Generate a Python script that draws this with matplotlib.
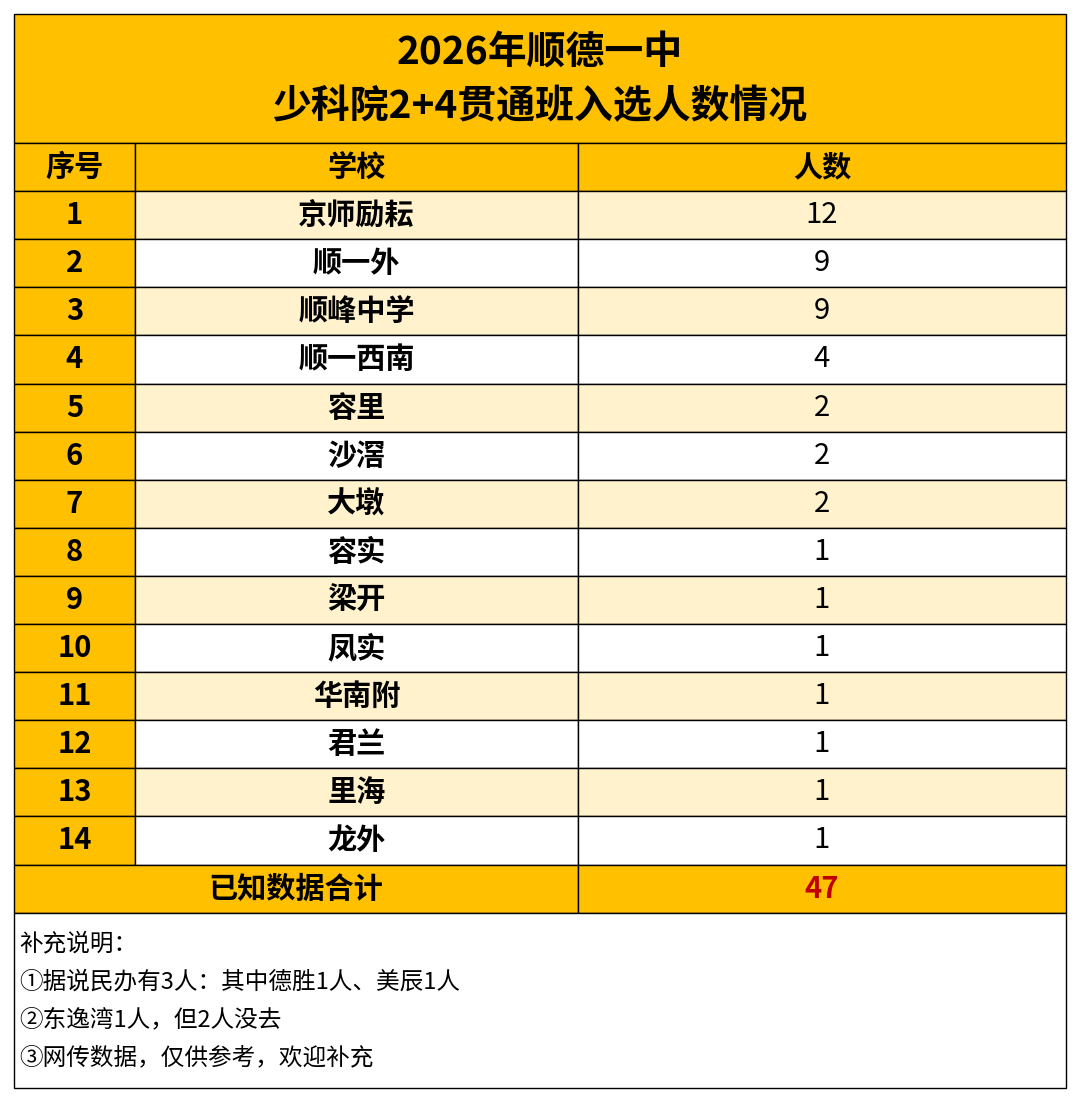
import matplotlib.pyplot as plt
from matplotlib.patches import Rectangle

plt.rcParams['font.family'] = ['Noto Sans CJK SC', 'DejaVu Sans']

title_lines = ['2026年顺德一中', '少科院2+4贯通班入选人数情况']
headers = ['序号', '学校', '人数']
schools = ['京师励耘', '顺一外', '顺峰中学', '顺一西南', '容里', '沙滘', '大墩',
           '容实', '梁开', '凤实', '华南附', '君兰', '里海', '龙外']
counts = [12, 9, 9, 4, 2, 2, 2, 1, 1, 1, 1, 1, 1, 1]
total_label = '已知数据合计'
notes = ['补充说明：', '①据说民办有3人：其中德胜1人、美辰1人',
         '②东逸湾1人，但2人没去', '③网传数据，仅供参考，欢迎补充']

orange = '#FFC000'
cream = '#FFF2CC'

fig = plt.figure(figsize=(10.8, 11.02), dpi=100)
ax = fig.add_axes([0, 0, 1, 1])
ax.set_xlim(0, 1080)
ax.set_ylim(1102, 0)
ax.axis('off')

x0, x1, x2, x3 = 14, 135, 578, 1066
top, title_h, row_h = 14, 129, 48.1

def cell(x, y, w, h, color):
    ax.add_patch(Rectangle((x, y), w, h, facecolor=color, edgecolor='black', linewidth=1))

# title
cell(x0, top, x3 - x0, title_h, orange)
for i, t in enumerate(title_lines):
    ax.text((x0 + x3) / 2, top + 38 + i * 55, t, ha='center', va='center',
            fontsize=28, fontweight='bold')

# header
y = top + title_h
cols = [(x0, x1), (x1, x2), (x2, x3)]
for (a, b), h in zip(cols, headers):
    cell(a, y, b - a, row_h, orange)
    ax.text((a + b) / 2, y + row_h / 2, h, ha='center', va='center', fontsize=21, fontweight='bold')

# rows
for i, (s, c) in enumerate(zip(schools, counts)):
    y = top + title_h + row_h * (i + 1)
    bg = cream if i % 2 == 0 else 'white'
    cell(x0, y, x1 - x0, row_h, orange)
    cell(x1, y, x2 - x1, row_h, bg)
    cell(x2, y, x3 - x2, row_h, bg)
    ax.text((x0 + x1) / 2, y + row_h / 2, str(i + 1), ha='center', va='center',
            fontsize=21, fontweight='bold')
    ax.text((x1 + x2) / 2, y + row_h / 2, s, ha='center', va='center',
            fontsize=21, fontweight='bold')
    ax.text((x2 + x3) / 2, y + row_h / 2, str(c), ha='center', va='center', fontsize=21)

# total
y = top + title_h + row_h * (len(schools) + 1)
cell(x0, y, x2 - x0, row_h, orange)
cell(x2, y, x3 - x2, row_h, orange)
ax.text((x0 + x2) / 2, y + row_h / 2, total_label, ha='center', va='center',
        fontsize=21, fontweight='bold')
ax.text((x2 + x3) / 2, y + row_h / 2, str(sum(counts)), ha='center', va='center',
        fontsize=21, fontweight='bold', color='#C00000')

# notes
y += row_h
cell(x0, y, x3 - x0, 1088 - y, 'white')
for i, n in enumerate(notes):
    ax.text(x0 + 5, y + 31 + i * 38, n, ha='left', va='center', fontsize=17)

fig.savefig('out.png', dpi=100)
